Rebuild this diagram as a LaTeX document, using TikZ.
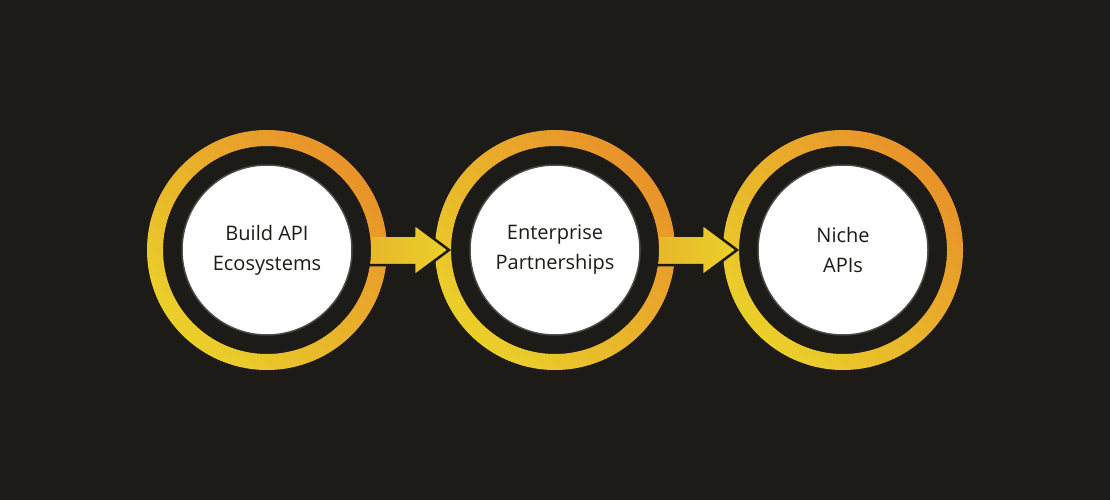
\documentclass[tikz,border=0pt]{standalone}
\usepackage{fontspec}
\setmainfont{Open Sans}
\usetikzlibrary{positioning,calc}
\definecolor{bgdark}{HTML}{1C1B18}
\definecolor{ringorange}{HTML}{E8922A}
\definecolor{ringyellow}{HTML}{EAD02A}
\definecolor{discedge}{HTML}{4A4A48}

\begin{document}
\begin{tikzpicture}[
    x=1pt, y=-1pt,
    disc/.style={circle, draw=discedge, line width=1.5pt, fill=white, minimum size=170pt, inner sep=0pt, align=center, font=\fontsize{20}{30}\selectfont, text=bgdark},
    ring/.style={even odd rule, left color=ringorange, right color=ringyellow, shading angle=-45},
    arrowfill/.style={left color=ringorange!40!ringyellow, right color=ringyellow},
    notch/.style={draw=bgdark, line width=2.5pt, line join=miter}
]
\fill[bgdark] (0,0) rectangle (1110,500);

% Positions
\coordinate (c1) at (267,250);
\coordinate (c2) at (555,250);
\coordinate (c3) at (843,250);

% Rings
\foreach \c in {c1,c2,c3}
  \shade[ring] (\c) circle[radius=120] (\c) circle[radius=104];

% Arrows between rings
\foreach \a/\b in {c1/c2,c2/c3}{
  \shade[arrowfill] ($(\a)+(104,-13)$) -- ($(\a)+(148,-13)$) -- ($(\a)+(148,-24)$)
     -- ($(\a)+(180,0)$) -- ($(\a)+(148,24)$) -- ($(\a)+(148,14)$) -- ($(\a)+(104,14)$) -- cycle;
  \draw[notch] ($(\a)+(102,15)$) -- ($(\a)+(147,15)$) -- ($(\a)+(147,26)$)
     -- ($(\a)+(182,0)$) -- ($(\a)+(147,-26)$) -- ($(\a)+(147,-15)$) -- ($(\a)+(121,-15)$);
}

% Discs
\node[disc] (build) at (c1) {Build API\\Ecosystems};
\node[disc] (enterprise) at (c2) {Enterprise\\Partnerships};
\node[disc] (niche) at (c3) {Niche\\APIs};
\end{tikzpicture}
\end{document}
